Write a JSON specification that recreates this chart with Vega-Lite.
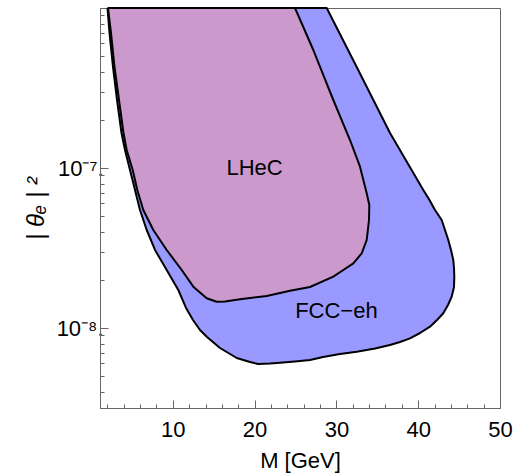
{
  "$schema": "https://vega.github.io/schema/vega-lite/v6.json",
  "width": 400,
  "height": 400,
  "autosize": {"type": "none"},
  "padding": {"left": 100, "top": 8, "right": 22, "bottom": 67},
  "background": "white",
  "config": {"view": {"stroke": "#666666", "strokeWidth": 1}, "font": "Liberation Sans"},
  "datasets": {
    "fcc": [
      {"i": 0, "M": 2.017, "t": 1e-6},
      {"i": 1, "M": 2.261, "t": 6.98e-7},
      {"i": 2, "M": 2.689, "t": 4.278e-7},
      {"i": 3, "M": 3.178, "t": 2.661e-7},
      {"i": 4, "M": 3.728, "t": 1.655e-7},
      {"i": 5, "M": 4.156, "t": 1.296e-7},
      {"i": 6, "M": 4.768, "t": 9.716e-8},
      {"i": 7, "M": 5.379, "t": 7.286e-8},
      {"i": 8, "M": 5.99, "t": 5.464e-8},
      {"i": 9, "M": 6.809, "t": 4.097e-8},
      {"i": 10, "M": 7.824, "t": 3.073e-8},
      {"i": 11, "M": 9.254, "t": 2.304e-8},
      {"i": 12, "M": 10.672, "t": 1.728e-8},
      {"i": 13, "M": 11.614, "t": 1.334e-8},
      {"i": 14, "M": 12.469, "t": 1.122e-8},
      {"i": 15, "M": 13.325, "t": 9.716e-9},
      {"i": 16, "M": 14.181, "t": 8.785e-9},
      {"i": 17, "M": 15.77, "t": 7.499e-9},
      {"i": 18, "M": 17.812, "t": 6.494e-9},
      {"i": 19, "M": 19.438, "t": 6.131e-9},
      {"i": 20, "M": 20.416, "t": 5.957e-9},
      {"i": 21, "M": 21.883, "t": 5.999e-9},
      {"i": 22, "M": 23.105, "t": 6.069e-9},
      {"i": 23, "M": 24.939, "t": 6.175e-9},
      {"i": 24, "M": 26.773, "t": 6.31e-9},
      {"i": 25, "M": 28.362, "t": 6.588e-9},
      {"i": 26, "M": 30.44, "t": 6.88e-9},
      {"i": 27, "M": 32.482, "t": 7.112e-9},
      {"i": 28, "M": 34.719, "t": 7.447e-9},
      {"i": 29, "M": 36.553, "t": 7.83e-9},
      {"i": 30, "M": 37.775, "t": 8.175e-9},
      {"i": 31, "M": 38.998, "t": 8.62e-9},
      {"i": 32, "M": 40.22, "t": 9.306e-9},
      {"i": 33, "M": 41.443, "t": 1.019e-8},
      {"i": 34, "M": 42.298, "t": 1.122e-8},
      {"i": 35, "M": 43.068, "t": 1.236e-8},
      {"i": 36, "M": 43.643, "t": 1.392e-8},
      {"i": 37, "M": 44.096, "t": 1.569e-8},
      {"i": 38, "M": 44.377, "t": 1.804e-8},
      {"i": 39, "M": 44.414, "t": 2.094e-8},
      {"i": 40, "M": 44.377, "t": 2.371e-8},
      {"i": 41, "M": 44.291, "t": 2.661e-8},
      {"i": 42, "M": 44.01, "t": 3.073e-8},
      {"i": 43, "M": 43.68, "t": 3.548e-8},
      {"i": 44, "M": 43.276, "t": 4.097e-8},
      {"i": 45, "M": 42.873, "t": 4.732e-8},
      {"i": 46, "M": 42.054, "t": 5.464e-8},
      {"i": 47, "M": 41.38, "t": 6.31e-8},
      {"i": 48, "M": 40.623, "t": 7.286e-8},
      {"i": 49, "M": 36.553, "t": 1.655e-7},
      {"i": 50, "M": 32.482, "t": 4.278e-7},
      {"i": 51, "M": 28.814, "t": 1e-6},
      {"i": 52, "M": 2.017, "t": 1e-6}
    ],
    "lhec": [
      {"i": 0, "M": 2.078, "t": 1e-6},
      {"i": 1, "M": 2.445, "t": 6.98e-7},
      {"i": 2, "M": 2.873, "t": 4.278e-7},
      {"i": 3, "M": 3.423, "t": 2.661e-7},
      {"i": 4, "M": 3.973, "t": 1.655e-7},
      {"i": 5, "M": 4.364, "t": 1.296e-7},
      {"i": 6, "M": 5.098, "t": 9.716e-8},
      {"i": 7, "M": 5.66, "t": 7.286e-8},
      {"i": 8, "M": 6.393, "t": 5.464e-8},
      {"i": 9, "M": 7.616, "t": 4.097e-8},
      {"i": 10, "M": 9.254, "t": 3.073e-8},
      {"i": 11, "M": 11.088, "t": 2.304e-8},
      {"i": 12, "M": 12.506, "t": 1.812e-8},
      {"i": 13, "M": 14.144, "t": 1.533e-8},
      {"i": 14, "M": 15.367, "t": 1.46e-8},
      {"i": 15, "M": 16.381, "t": 1.464e-8},
      {"i": 16, "M": 18.215, "t": 1.511e-8},
      {"i": 17, "M": 21.479, "t": 1.585e-8},
      {"i": 18, "M": 24.328, "t": 1.711e-8},
      {"i": 19, "M": 26.773, "t": 1.804e-8},
      {"i": 20, "M": 29.621, "t": 2.094e-8},
      {"i": 21, "M": 30.844, "t": 2.304e-8},
      {"i": 22, "M": 32.066, "t": 2.537e-8},
      {"i": 23, "M": 33.093, "t": 2.929e-8},
      {"i": 24, "M": 33.704, "t": 3.548e-8},
      {"i": 25, "M": 33.985, "t": 4.732e-8},
      {"i": 26, "M": 34.022, "t": 5.872e-8},
      {"i": 27, "M": 33.704, "t": 6.947e-8},
      {"i": 28, "M": 32.885, "t": 1.019e-7},
      {"i": 29, "M": 31.662, "t": 1.496e-7},
      {"i": 30, "M": 29.621, "t": 2.661e-7},
      {"i": 31, "M": 27.176, "t": 5.464e-7},
      {"i": 32, "M": 24.939, "t": 1e-6},
      {"i": 33, "M": 2.078, "t": 1e-6}
    ],
    "labels": [
      {"M": 20, "t": 1e-7, "name": "LHeC"},
      {"M": 30, "t": 1.27e-8, "name": "FCC−eh"}
    ]
  },
  "resolve": {"axis": {"x": "independent", "y": "independent"}},
  "layer": [
    {
      "data": {"name": "fcc"},
      "mark": {"type": "line", "fill": "#9999ff", "stroke": "black", "strokeWidth": 2, "strokeJoin": "round"},
      "encoding": {
        "x": {"field": "M", "type": "quantitative",
          "scale": {"domain": [1.1, 50], "nice": false, "zero": false},
          "axis": {"title": "M [GeV]", "values": [10, 20, 30, 40, 50], "tickSize": -8, "labelPadding": 19,
            "grid": false, "domainColor": "#666666", "tickColor": "#666666", "labelColor": "black", "titleColor": "black",
            "labelFontSize": 22, "titleFontSize": 22, "titleFontWeight": "normal", "titlePadding": 10, "labelFlush": false}},
        "y": {"field": "t", "type": "quantitative",
          "scale": {"type": "log", "domain": [3.1623e-9, 1e-6], "nice": false},
          "axis": {"title": "| θₑ | ²", "values": [1e-8, 1e-7], "tickSize": -8, "labelPadding": 5,
            "labelExpr": "datum.value < 5e-8 ? '10⁻⁸.' : '10⁻⁷.'",
            "grid": false, "domainColor": "#666666", "tickColor": "#666666", "labelColor": "black", "titleColor": "black",
            "labelFontSize": 22, "titleFontSize": 24, "titleFontWeight": "normal", "titleFontStyle": "italic", "titlePadding": 8}},
        "order": {"field": "i", "type": "quantitative"}
      }
    },
    {
      "data": {"name": "lhec"},
      "mark": {"type": "line", "fill": "#cc99cc", "stroke": "black", "strokeWidth": 2, "strokeJoin": "round"},
      "encoding": {
        "x": {"field": "M", "type": "quantitative",
          "scale": {"domain": [1.1, 50], "nice": false, "zero": false},
          "axis": {"orient": "bottom", "title": null, "labels": false, "domain": false, "grid": false,
            "values": [2, 4, 6, 8, 12, 14, 16, 18, 22, 24, 26, 28, 32, 34, 36, 38, 42, 44, 46, 48],
            "tickSize": -4, "tickColor": "#666666"}},
        "y": {"field": "t", "type": "quantitative",
          "scale": {"type": "log", "domain": [3.1623e-9, 1e-6], "nice": false},
          "axis": {"orient": "left", "title": null, "labels": false, "domain": false, "grid": false,
            "values": [4e-9, 5e-9, 6e-9, 7e-9, 8e-9, 9e-9, 2e-8, 3e-8, 4e-8, 5e-8, 6e-8, 7e-8, 8e-8, 9e-8, 2e-7, 3e-7, 4e-7, 5e-7, 6e-7, 7e-7, 8e-7, 9e-7],
            "tickSize": -4, "tickColor": "#666666"}},
        "order": {"field": "i", "type": "quantitative"}
      }
    },
    {
      "data": {"name": "labels"},
      "mark": {"type": "text", "fontSize": 22, "color": "black", "align": "center", "baseline": "middle"},
      "encoding": {
        "x": {"field": "M", "type": "quantitative", "scale": {"domain": [1.1, 50], "nice": false, "zero": false}, "axis": null},
        "y": {"field": "t", "type": "quantitative", "scale": {"type": "log", "domain": [3.1623e-9, 1e-6], "nice": false}, "axis": null},
        "text": {"field": "name"}
      }
    }
  ]
}
